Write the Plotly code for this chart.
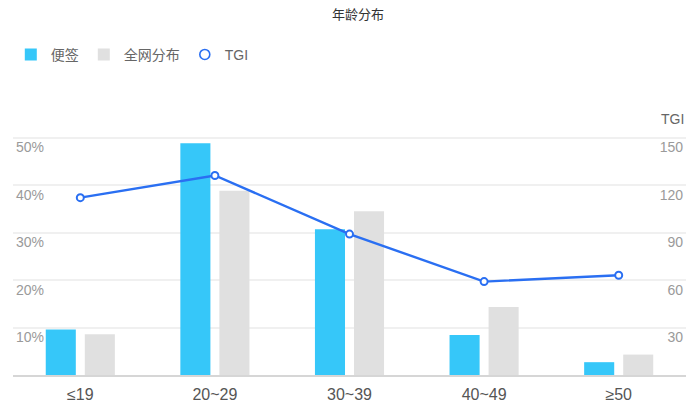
import plotly.graph_objects as go

# ── Data ──────────────────────────────────────────────────────────────────────
age_groups = ["≤19", "20~29", "30~39", "40~49", "≥50"]
note_share = [9.6, 48.8, 30.7, 8.4, 2.7]      # 便签, %
web_share = [8.6, 38.8, 34.5, 14.3, 4.3]      # 全网分布, %
tgi = [112, 126, 89, 59, 63]

pct_ticks = [10, 20, 30, 40, 50]
tgi_ticks = [30, 60, 90, 120, 150]

# ── Colors ────────────────────────────────────────────────────────────────────
BLUE_BAR = "#36c7f9"
GRAY_BAR = "#e0e0e0"
LINE = "#2a6ff2"
GRID = "#f0f0f0"
AXIS = "#d6d6d6"
LABEL = "#9a9a9a"
FONT = "Liberation Sans, Noto Sans CJK SC, sans-serif"

fig = go.Figure()
fig.add_trace(go.Bar(x=age_groups, y=note_share, name="便签",
                     marker=dict(color=BLUE_BAR, line=dict(width=0))))
fig.add_trace(go.Bar(x=age_groups, y=web_share, name="全网分布",
                     marker=dict(color=GRAY_BAR, line=dict(width=0))))
fig.add_trace(go.Scatter(
    x=age_groups, y=tgi, yaxis="y2", mode="lines+markers", name="TGI",
    line=dict(color=LINE, width=2.4),
    marker=dict(symbol="circle", size=7, color="white",
                line=dict(color=LINE, width=2)),
    showlegend=False, legendgroup="tgi",
))
# legend entry for TGI: marker only, like the original
fig.add_trace(go.Scatter(
    x=[None], y=[None], yaxis="y2", mode="markers", name="TGI",
    marker=dict(symbol="circle-open", size=10, color=LINE,
                line=dict(width=1.6)),
    legendgroup="tgi",
))

# page body adds an 8px offset, margins account for it
fig.update_layout(
    width=700, height=404,
    margin=dict(l=5, r=22, t=119.5, b=37, autoexpand=False),
    paper_bgcolor="white", plot_bgcolor="white",
    font=dict(family=FONT, size=14, color="#666"),
    barmode="group", bargap=0.42, bargroupgap=0.23,
    title=dict(text="年龄分布", x=0.5, xanchor="center", y=0.985, yanchor="middle",
               font=dict(size=13, color="#333")),
    legend=dict(orientation="h", xref="container", yref="container",
                x=0.004, xanchor="left", y=0.884, yanchor="middle",
                font=dict(size=14, color="#666"), itemwidth=30,
                traceorder="normal"),
    xaxis=dict(range=[-0.5, 4.5], showline=True, linecolor=AXIS, linewidth=1.5,
               showgrid=False, ticks="outside", ticklen=4,
               tickcolor="rgba(0,0,0,0)",
               tickfont=dict(size=16, color="#555"), fixedrange=True),
    yaxis=dict(range=[0, 52], tickvals=pct_ticks,
               ticktext=[f"{v}%" for v in pct_ticks],
               ticklabelposition="inside bottom",
               tickfont=dict(size=14, color=LABEL),
               showgrid=True, gridcolor=GRID, gridwidth=1.5,
               zeroline=False, showline=False),
    yaxis2=dict(range=[0, 156], tickvals=tgi_ticks, overlaying="y", side="right",
                ticklabelposition="inside bottom",
                tickfont=dict(size=14, color=LABEL),
                showgrid=False, zeroline=False, showline=False),
)

fig.add_annotation(text="TGI", xref="paper", yref="paper", x=1.0, y=1.038,
                   xanchor="right", yanchor="middle", showarrow=False,
                   font=dict(size=14, color="#666"))

fig.write_html("out.html")
